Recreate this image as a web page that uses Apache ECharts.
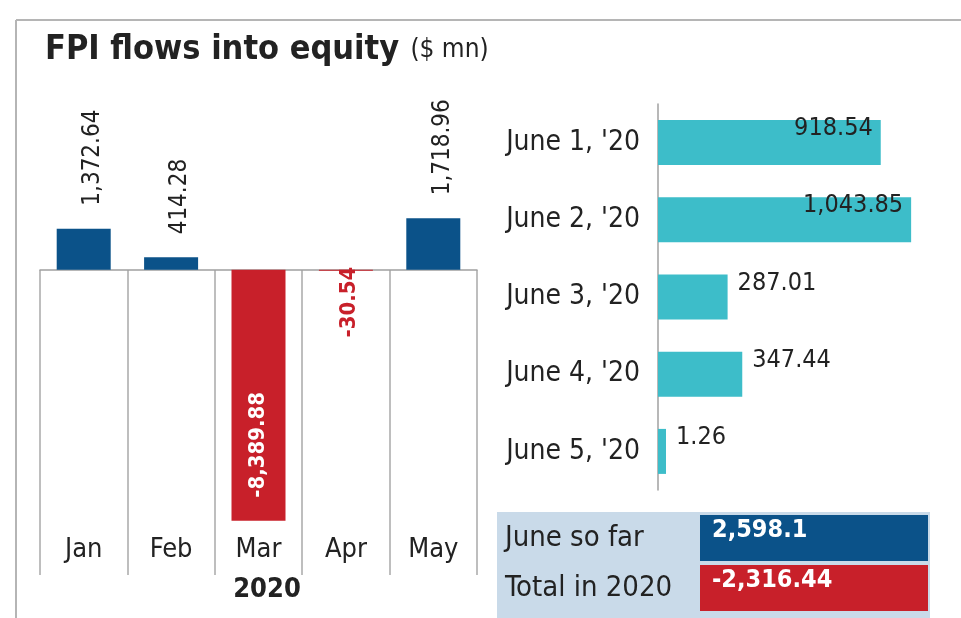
<!DOCTYPE html>
<html>
<head>
<meta charset="utf-8">
<script src="https://cdn.jsdelivr.net/npm/echarts@6/dist/echarts.min.js"></script>
<style>
  html, body { margin: 0; padding: 0; background: #fff; }
  #chart { width: 961px; height: 618px; }
</style>
</head>
<body>
<div id="chart"></div>
<script>
const months = ["Jan", "Feb", "Mar", "Apr", "May"];
const monthlyFlows = [1372.64, 414.28, -8389.88, -30.54, 1718.96];
const juneDays = ["June 1, '20", "June 2, '20", "June 3, '20", "June 4, '20", "June 5, '20"];
const juneFlows = [918.54, 1043.85, 287.01, 347.44, 1.26];
const summaryNames = ["June so far", "Total in 2020"];
const summaryValues = [2598.1, -2316.44];

const FONT = "'DejaVu Sans Condensed', 'Liberation Sans Narrow', 'Roboto', sans-serif";
const BLUE = "#0b5289";
const RED = "#c8202a";
const TEAL = "#3dbdc9";

const fmt = (v) => v.toLocaleString("en-US", { minimumFractionDigits: 0, maximumFractionDigits: 2 });

const chart = echarts.init(document.getElementById("chart"));

// monthly bars: positive labels above, big negative inside, small negative below in red
// (labels are rotated 90deg, so offset[1] moves them to the right)
const monthlyData = monthlyFlows.map((v) => {
  let label;
  if (v >= 0) {
    label = { position: "top", distance: 23, offset: [0, 9], color: "#222" };
  } else if (v < -1000) {
    label = { position: "insideBottom", distance: 23, color: "#fff", fontWeight: "bold", fontSize: 22 };
  } else {
    label = { position: "top", distance: 3, align: "right", offset: [0, 3], color: RED, fontWeight: "bold", fontSize: 22 };
  }
  return { value: v, itemStyle: { color: v >= 0 ? BLUE : RED }, label };
});

const juneData = juneFlows.map((v) => ({
  value: v,
  label: v > 500
    ? { position: "insideRight", distance: 8 }
    : { position: "right", distance: 10 }
}));

const summaryData = summaryValues.map((v) => ({
  value: 1,
  itemStyle: { color: v >= 0 ? BLUE : RED }
}));

const noBounds = { outerBoundsMode: "none", containLabel: false };

const option = {
  animation: false,
  backgroundColor: "#fff",
  textStyle: { fontFamily: FONT },
  title: {
    left: 40,
    top: 28,
    text: "{a|FPI flows into equity}  {b|($ mn)}",
    textStyle: {
      rich: {
        a: { fontFamily: FONT, fontSize: 34, fontWeight: "bold", color: "#222" },
        b: { fontFamily: FONT, fontSize: 26, fontWeight: "normal", color: "#222" }
      }
    }
  },
  graphic: [
    { type: "line", shape: { x1: 16, y1: 20, x2: 961, y2: 20 }, style: { stroke: "#b5b5b5", lineWidth: 2 } },
    { type: "line", shape: { x1: 16, y1: 20, x2: 16, y2: 618 }, style: { stroke: "#b5b5b5", lineWidth: 2 } },
    { type: "rect", z: -1, shape: { x: 497, y: 512, width: 433, height: 106 }, style: { fill: "#c9dae9" } }
  ],
  grid: [
    // monthly bars
    Object.assign({ left: 40, top: 180, width: 437, height: 359 }, noBounds),
    // month cells below the zero line
    Object.assign({ left: 40, top: 270, width: 437, height: 305 }, noBounds),
    // June daily bars
    Object.assign({ left: 658, top: 104, width: 291, height: 386 }, noBounds),
    // summary table
    Object.assign({ left: 700, top: 513, width: 228, height: 100 }, noBounds)
  ],
  xAxis: [
    {
      gridIndex: 0,
      type: "category",
      data: months,
      axisLine: { onZero: true, lineStyle: { color: "#a0a0a0", width: 1.5 } },
      axisTick: { show: false },
      axisLabel: { show: false }
    },
    {
      gridIndex: 1,
      type: "category",
      data: months,
      axisLine: { show: false },
      axisTick: { show: false },
      splitLine: { show: true, interval: 0, lineStyle: { color: "#a8a8a8", width: 1.5 } },
      axisLabel: { inside: true, margin: 12, fontSize: 27, color: "#222", fontFamily: FONT },
      name: "2020",
      nameLocation: "middle",
      nameGap: 0,
      nameTextStyle: { fontSize: 27, fontWeight: "bold", color: "#222", fontFamily: FONT, padding: [0, 0, 0, 17], verticalAlign: "top" }
    },
    { gridIndex: 2, type: "value", min: 0, max: 1200, show: false },
    { gridIndex: 3, type: "value", min: 0, max: 1, show: false }
  ],
  yAxis: [
    { gridIndex: 0, type: "value", min: -9000, max: 3000, show: false },
    { gridIndex: 1, type: "value", show: false },
    {
      gridIndex: 2,
      type: "category",
      data: juneDays,
      inverse: true,
      axisLine: { show: true, lineStyle: { color: "#a0a0a0", width: 1.5 } },
      axisTick: { show: false },
      axisLabel: { margin: 18, fontSize: 28, color: "#222", fontFamily: FONT }
    },
    {
      gridIndex: 3,
      type: "category",
      data: summaryNames,
      inverse: true,
      axisLine: { show: false },
      axisTick: { show: false },
      axisLabel: { margin: 195, align: "left", fontSize: 29, color: "#222", fontFamily: FONT }
    }
  ],
  series: [
    {
      type: "bar",
      xAxisIndex: 0,
      yAxisIndex: 0,
      barWidth: 54,
      data: monthlyData,
      label: {
        show: true,
        rotate: 90,
        align: "left",
        verticalAlign: "middle",
        fontSize: 24,
        fontFamily: FONT,
        formatter: (p) => fmt(p.value)
      }
    },
    {
      type: "bar",
      xAxisIndex: 2,
      yAxisIndex: 2,
      barWidth: 45,
      barMinHeight: 8,
      itemStyle: { color: TEAL },
      data: juneData,
      label: {
        show: true,
        offset: [0, -14],
        fontSize: 25,
        color: "#222",
        fontFamily: FONT,
        formatter: (p) => fmt(p.value)
      }
    },
    {
      type: "bar",
      xAxisIndex: 3,
      yAxisIndex: 3,
      barWidth: 46,
      data: summaryData,
      label: {
        show: true,
        position: "insideLeft",
        distance: 12,
        offset: [0, -8],
        fontSize: 25,
        fontWeight: "bold",
        color: "#fff",
        fontFamily: FONT,
        formatter: (p) => fmt(summaryValues[p.dataIndex])
      }
    }
  ]
};

chart.setOption(option);
</script>
</body>
</html>
